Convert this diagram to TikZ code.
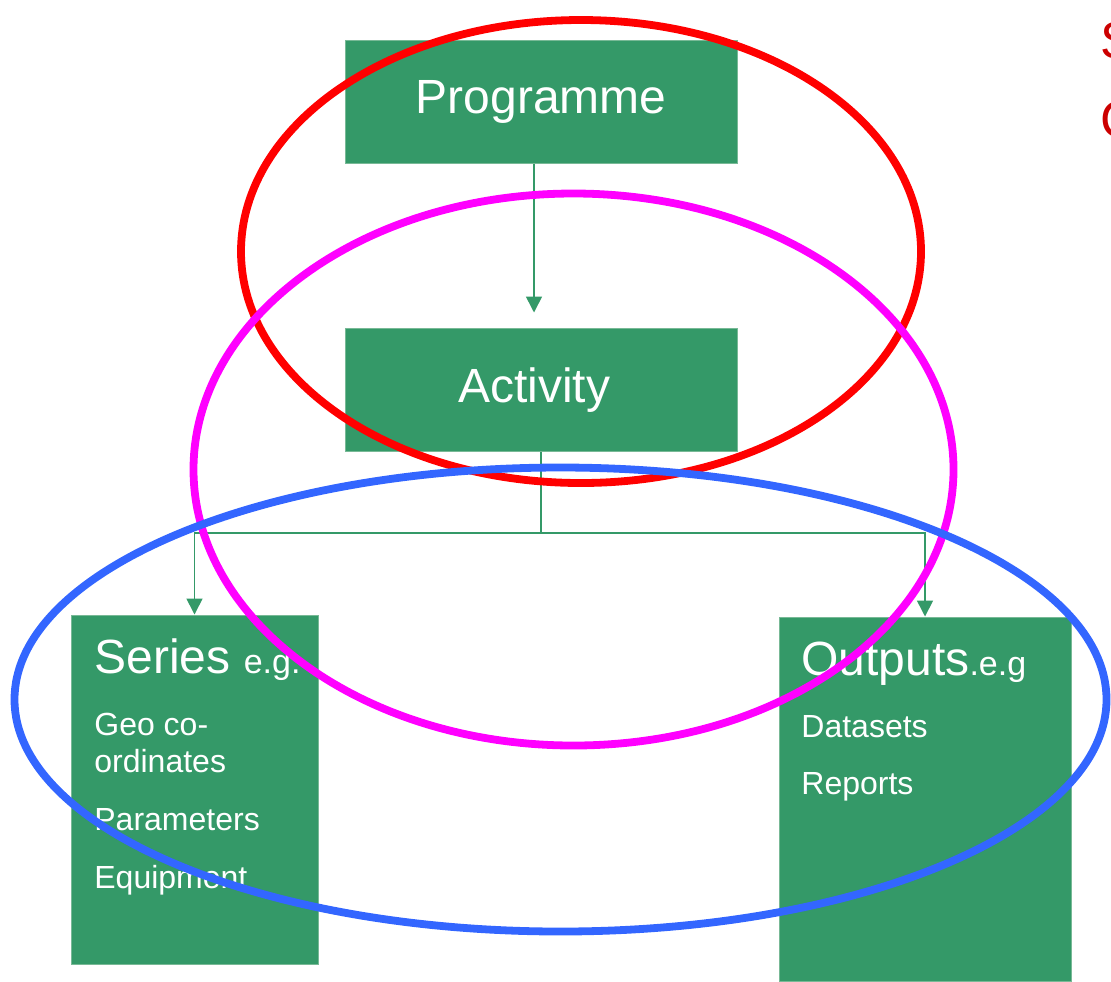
\documentclass[tikz,border=0pt]{standalone}
\usepackage{fontspec}
\setmainfont{Liberation Sans}
\usepackage{tikz}
\usetikzlibrary{arrows.meta, calc, positioning}

\definecolor{boxgreen}{RGB}{52,153,104}
\definecolor{boxedge}{RGB}{120,185,150}
\definecolor{ringred}{RGB}{255,0,0}
\definecolor{ringpink}{RGB}{255,0,255}
\definecolor{ringblue}{RGB}{51,102,255}
\definecolor{titlered}{RGB}{204,0,0}

\begin{document}
\begin{tikzpicture}[
		x=0.5pt, y=-0.5pt,
		unit/.style={rectangle, fill=boxgreen, draw=boxedge, line width=0.5pt, inner sep=0pt},
		head/.style={text=white, inner sep=0pt, font=\fontsize{24}{28}\selectfont},
		item/.style={text=white, inner sep=0pt, anchor=base west, font=\fontsize{16}{19}\selectfont},
		link/.style={draw=boxgreen, line width=0.8pt, -{Triangle[width=8pt,length=8pt]}},
		ring/.style={line width=3.9pt}
		]
		\useasboundingbox (0,0) rectangle (1111,981);
		
		% Les cadres
		\node[unit, minimum width=196pt, minimum height=61.5pt] (prog) at (541,101.5) {};
		\node[unit, minimum width=196pt, minimum height=61.5pt] (act) at (541,389.5) {};
		\node[unit, minimum width=123.5pt, minimum height=174.5pt] (series) at (194.5,789.5) {};
		\node[unit, minimum width=146pt, minimum height=182pt] (outputs) at (925,799) {};
		
		% Les textes
		\node[head, anchor=base] (progtext) at (541,113) {Programme};
		\node[head, anchor=base] (acttext) at (534,402) {Activity};
		\node[head, anchor=base west] (seriestext) at (94,673) {Series {\fontsize{17}{20}\selectfont e.g.}};
		\node[head, anchor=base west] (outputstext) at (801,675) {Outputs{\fontsize{17}{20}\selectfont .e.g}};
		\node[item] (geo) at (94,735) {Geo co-};
		\node[item] (ordinates) at (94,772) {ordinates};
		\node[item] (parameters) at (94,830) {Parameters};
		\node[item] (equipment) at (94,888) {Equipment};
		\node[item] (datasets) at (801,737) {Datasets};
		\node[item] (reports) at (801,794) {Reports};
		
		% Les liens
		\coordinate (split) at (541,533);
		\draw[link] ([xshift=-3.5pt]prog.south) -- ([xshift=-3.5pt,yshift=7.5pt]act.north);
		\draw[draw=boxgreen, line width=0.8pt] (act.south) -- (split);
		\draw[link] (split) -| (series.north);
		\draw[link] (split) -| (outputs.north);
		
		% Les ellipses
		\draw[ring, ringred] (581,251.5) ellipse [x radius=170pt, y radius=115.75pt];
		\draw[ring, ringpink] (573.5,469.5) ellipse [x radius=190pt, y radius=138pt];
		\draw[ring, ringblue] (560.5,699.5) ellipse [x radius=273pt, y radius=116pt];
		
		% Le titre coupé
		\node[inner sep=0pt, anchor=base west, text=titlered, font=\fontsize{26}{30}\selectfont] (titleone) at (1100,58) {S};
		\node[inner sep=0pt, anchor=base west, text=titlered, font=\fontsize{26}{30}\selectfont] (titletwo) at (1100,137) {C};
	\end{tikzpicture}
\end{document}
